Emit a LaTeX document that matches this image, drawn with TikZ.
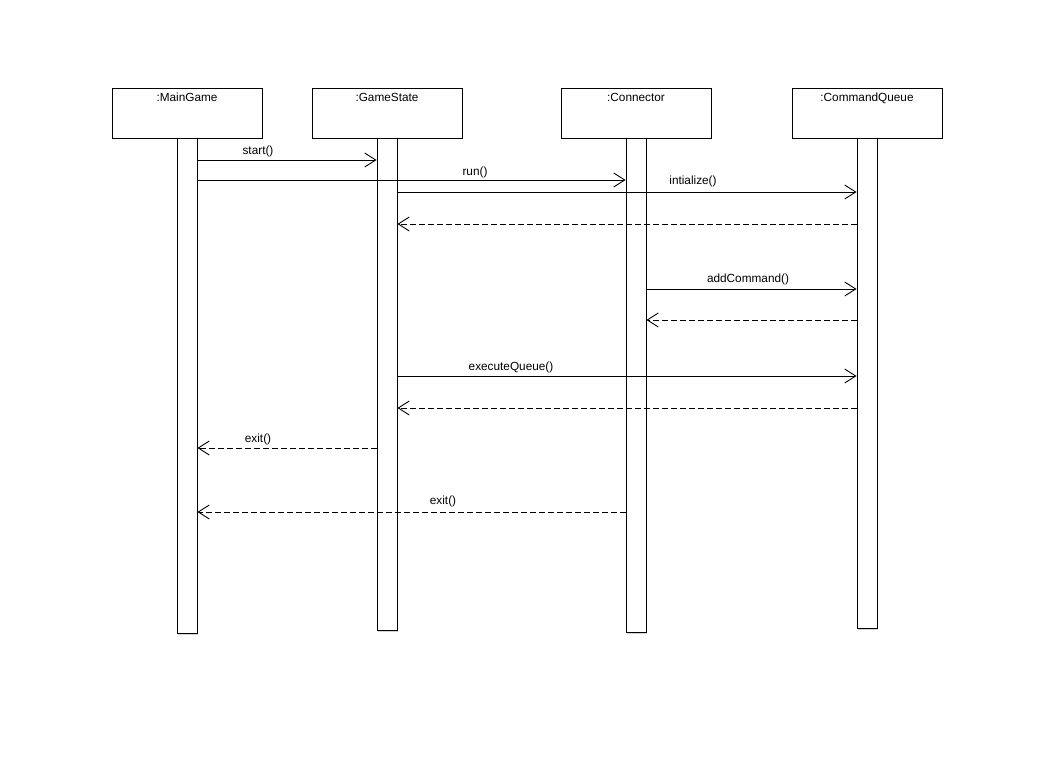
\documentclass[tikz,border=0pt]{standalone}
\usepackage{fontspec}
\setmainfont{Liberation Sans}
\usetikzlibrary{arrows.meta,shadows}

\begin{document}
\begin{tikzpicture}[x=1pt, y=-1pt,
    headbox/.style={draw, fill=white, line width=0.9pt, minimum width=150pt, minimum height=50pt, inner sep=0pt,
        drop shadow={shadow xshift=1.2pt, shadow yshift=-1.2pt, opacity=0.35, fill=gray}},
    headtext/.style={font=\fontsize{11.8}{14}\selectfont, anchor=north, inner sep=0pt, yshift=-5.5pt},
    bar/.style={draw, fill=white, line width=0.9pt, minimum width=20pt, inner sep=0pt, anchor=north,
        drop shadow={shadow xshift=1.2pt, shadow yshift=-1.2pt, opacity=0.35, fill=gray}},
    call/.style={line width=0.9pt, -{Straight Barb[length=11pt,width=14pt]}},
    reply/.style={call, dash pattern=on 6pt off 3pt},
    msg/.style={font=\fontsize{11.8}{14}\selectfont, inner sep=0pt}]

    \useasboundingbox (0,0) rectangle (1054,770);

    % Draw lifeline heads
    \node[headbox] (mg) at (187,113) {};
    \node[headbox] (gs) at (387,113) {};
    \node[headbox] (cn) at (636,113) {};
    \node[headbox] (cq) at (867,113) {};
    \node[headtext] (mgtext) at (mg.north) {:MainGame};
    \node[headtext] (gstext) at (gs.north) {:GameState};
    \node[headtext] (cntext) at (cn.north) {:Connector};
    \node[headtext] (cqtext) at (cq.north) {:CommandQueue};

    % Draw activation bars
    \node[bar, minimum height=495pt] (mgbar) at (mg.south) {};
    \node[bar, minimum height=492pt] (gsbar) at (gs.south) {};
    \node[bar, minimum height=494pt] (cnbar) at (cn.south) {};
    \node[bar, minimum height=490pt] (cqbar) at (cq.south) {};

    % Message heights
    \coordinate (m1) at (0,160);
    \coordinate (m2) at (0,180);
    \coordinate (m3) at (0,192);
    \coordinate (m4) at (0,224);
    \coordinate (m5) at (0,289);
    \coordinate (m6) at (0,320);
    \coordinate (m7) at (0,376);
    \coordinate (m8) at (0,408);
    \coordinate (m9) at (0,448);
    \coordinate (m10) at (0,512);

    % Draw messages
    \draw[call] (mgbar.east |- m1) -- (gsbar.west |- m1);
    \draw[call] (mgbar.east |- m2) -- (cnbar.west |- m2);
    \draw[call] (gsbar.east |- m3) -- (cqbar.west |- m3);
    \draw[reply] (cqbar.west |- m4) -- (gsbar.east |- m4);
    \draw[call] (cnbar.east |- m5) -- (cqbar.west |- m5);
    \draw[reply] (cqbar.west |- m6) -- (cnbar.east |- m6);
    \draw[call] (gsbar.east |- m7) -- (cqbar.west |- m7);
    \draw[reply] (cqbar.west |- m8) -- (gsbar.east |- m8);
    \draw[reply] (gsbar.west |- m9) -- (mgbar.east |- m9);
    \draw[reply] (cnbar.west |- m10) -- (mgbar.east |- m10);

    % Message labels
    \node[msg] (start) at (258,151) {start()};
    \node[msg] (run) at (475,172) {run()};
    \node[msg] (init) at (693,181) {intialize()};
    \node[msg] (add) at (748,279) {addCommand()};
    \node[msg] (exec) at (511,367) {executeQueue()};
    \node[msg] (exitgs) at (258,439) {exit()};
    \node[msg] (exitcn) at (443,501) {exit()};
\end{tikzpicture}
\end{document}
